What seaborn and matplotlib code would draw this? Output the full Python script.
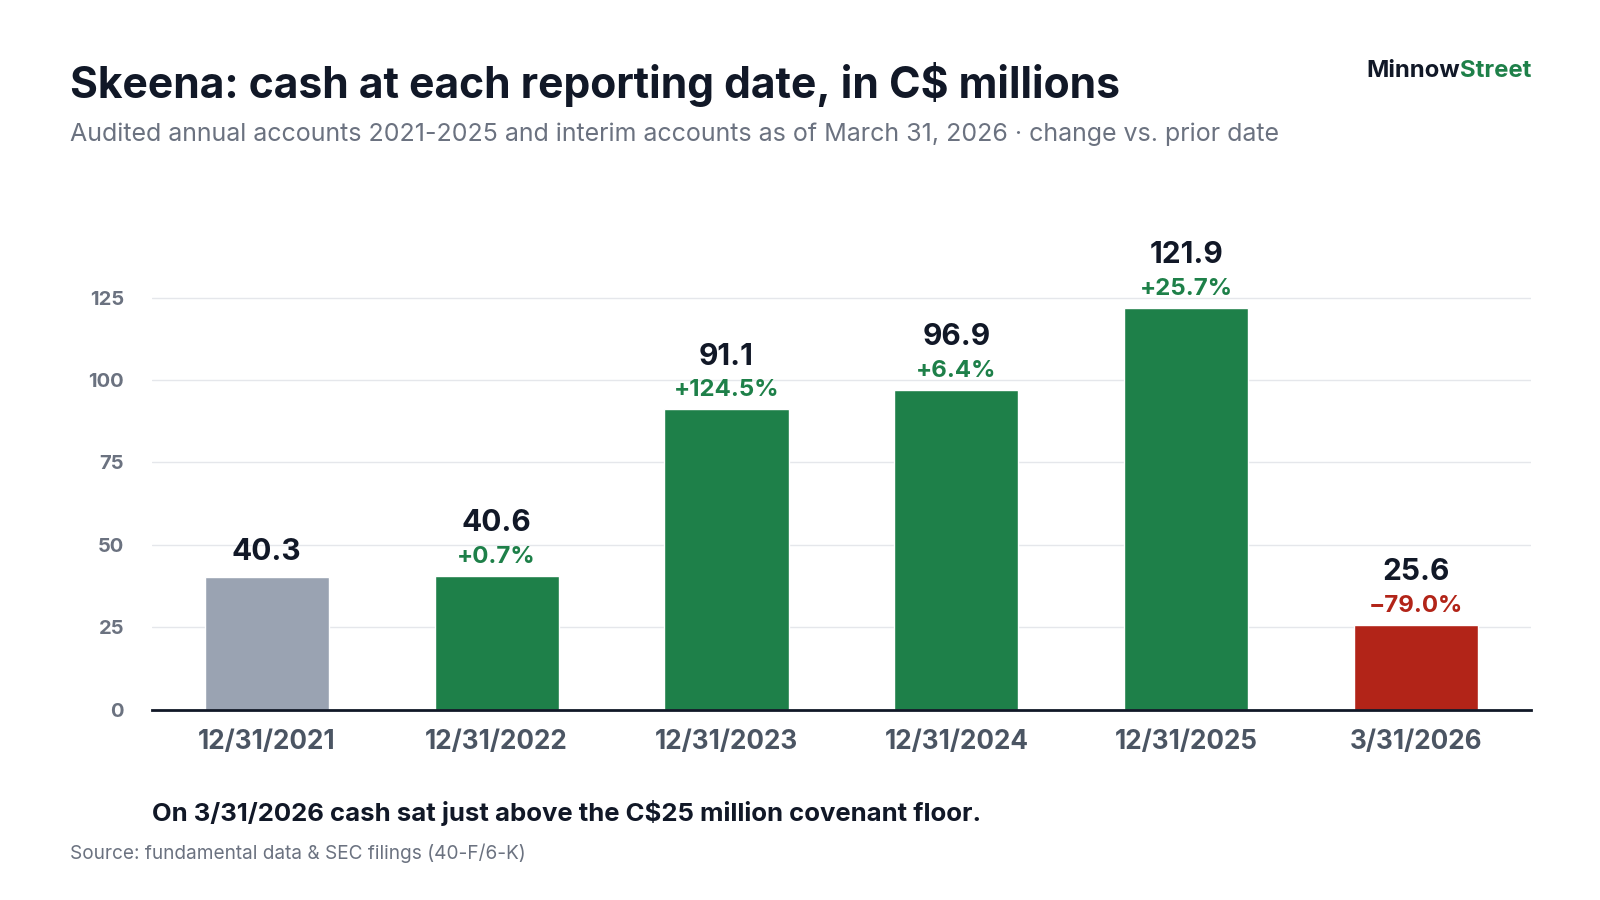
import matplotlib
matplotlib.use("Agg")
import matplotlib.pyplot as plt
import seaborn as sns
import pandas as pd

dates = ["12/31/2021", "12/31/2022", "12/31/2023", "12/31/2024", "12/31/2025", "3/31/2026"]
cash = [40.3, 40.6, 91.1, 96.9, 121.9, 25.6]
changes = [None, "+0.7%", "+124.5%", "+6.4%", "+25.7%", "\u221279.0%"]
colors = ["#9aa3b2", "#1e8049", "#1e8049", "#1e8049", "#1e8049", "#b22418"]
yticks = [0, 25, 50, 75, 100, 125]

sns.set_theme(style="white")
plt.rcParams['font.family'] = ['Inter', 'DejaVu Sans']

df = pd.DataFrame({"date": dates, "cash": cash})
fig = plt.figure(figsize=(16, 9), dpi=100)
ax = fig.add_axes([0.0949, 0.2115, 0.862, 0.531])
sns.barplot(data=df, x="date", y="cash", hue="date", palette=colors, legend=False,
            width=0.54, ax=ax, saturation=1)
ax.set_ylim(0, 145)
ax.set_xlim(-0.5, 5.5)
ax.set_yticks(yticks)
ax.set_yticklabels([str(t) for t in yticks], fontsize=14.5, color="#6b7280", fontweight="bold")
ax.tick_params(axis="y", length=0, pad=20)
ax.tick_params(axis="x", length=0, pad=14)
for lbl in ax.get_xticklabels():
    lbl.set_fontsize(18.8); lbl.set_fontweight("bold"); lbl.set_color("#4b5563")
ax.set_xlabel(""); ax.set_ylabel("")
for t in yticks[1:]:
    ax.axhline(t, color="#e5e7eb", lw=1, zorder=0)
for s in ["top", "right", "left"]:
    ax.spines[s].set_visible(False)
ax.spines["bottom"].set_color("#111827"); ax.spines["bottom"].set_linewidth(2)

for i, (v, c) in enumerate(zip(cash, changes)):
    if c is None:
        ax.annotate(f"{v:.1f}", (i, v), xytext=(0, 8), textcoords="offset points",
                    ha="center", va="bottom", fontsize=21.5, fontweight="bold", color="#111827")
    else:
        col = "#b22418" if c.startswith("\u2212") else "#1e8049"
        ax.annotate(c, (i, v), xytext=(0, 6), textcoords="offset points",
                    ha="center", va="bottom", fontsize=17.3, fontweight="bold", color=col)
        ax.annotate(f"{v:.1f}", (i, v), xytext=(0, 28), textcoords="offset points",
                    ha="center", va="bottom", fontsize=21.5, fontweight="bold", color="#111827")

fig.text(0.0436, 0.9066, "Skeena: cash at each reporting date, in C$ millions",
         fontsize=30.7, fontweight="bold", color="#111827", va="center")
fig.text(0.0436, 0.851, "Audited annual accounts 2021-2025 and interim accounts as of March 31, 2026 \u00b7 change vs. prior date",
         fontsize=18, color="#6b7280", va="center")
fig.text(0.955, 0.921, "Minnow", fontsize=17.2, fontweight="bold", color="#111827", ha="right", va="center")
t = fig.text(0.9568, 0.921, "Street", fontsize=17.2, fontweight="bold", color="#1e8049", ha="right", va="center")
fig.canvas.draw()
bb = t.get_window_extent()
fig.texts[-2].set_x(bb.x0 / fig.bbox.width)
fig.text(0.0949, 0.0963, "On 3/31/2026 cash sat just above the C$25 million covenant floor.",
         fontsize=18.5, fontweight="bold", color="#111827", va="center")
fig.text(0.0436, 0.052, "Source: fundamental data & SEC filings (40-F/6-K)",
         fontsize=13.7, color="#6b7280", va="center")
fig.savefig("out.png", dpi=100, facecolor="white")
